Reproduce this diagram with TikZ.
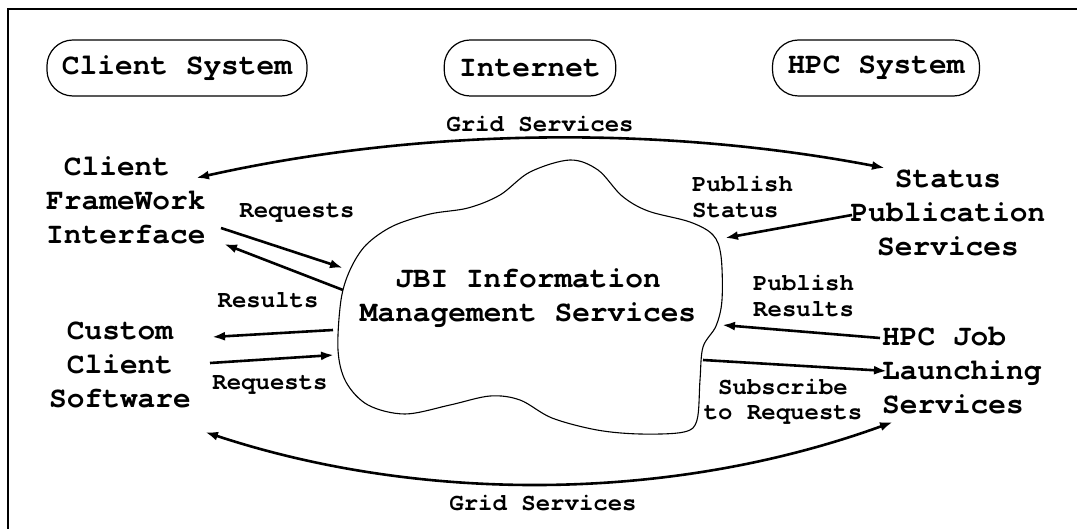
\documentclass[tikz,border=0pt]{standalone}
\usepackage{fontspec}
\setmonofont{TeX Gyre Cursor}
\usetikzlibrary{arrows.meta}
\begin{document}
\begin{tikzpicture}[x=1pt,y=-1pt,
  big/.style={font=\fontsize{29.5}{34}\selectfont\ttfamily\bfseries, inner sep=0pt},
  small/.style={font=\fontsize{24}{25.5}\selectfont\ttfamily\bfseries, inner sep=0pt},
  sysbox/.style={big, draw, line width=1.2pt, rounded corners=26pt, minimum height=56pt, inner xsep=15pt},
  arr/.style={line width=2.6pt, -{Latex[length=13pt,width=9pt]}},
  dbl/.style={line width=2.6pt, {Latex[length=13pt,width=9pt]}-{Latex[length=13pt,width=9pt]}},
  cloudline/.style={line width=1.1pt}
]
\useasboundingbox (0,0) rectangle (1077,529);
\fill[white] (0,0) rectangle (1077,529);
\draw[line width=2pt] (8,529) -- (8,9) -- (1077,9);

% system boxes
\node[sysbox] (client) at (177,68) {Client System};
\node[sysbox] (inet) at (530,68) {Internet};
\node[sysbox] (hpc) at (876,68) {HPC System};

% cloud
\draw[cloudline] plot[smooth cycle, tension=0.55] coordinates {
 (570,160) (598,170) (622,196) (648,211) (690,222) (713,235) (721,256)
 (722,300) (716,326) (703,347) (700,380) (697,420) (684,432) (640,434)
 (597,430) (552,418) (520,400) (490,396) (450,405) (405,414) (368,405)
 (346,382) (338,350) (341,300) (350,270) (366,245) (393,226) (430,214)
 (468,208) (500,195) (530,172)};

% main text nodes
\node[big, anchor=west, align=left] (cfi) at (46,200) {\phantom{C}Client\\FrameWork\\Interface};
\node[big, align=center] (ccs) at (120,365) {Custom\\Client\\Software};
\node[big, align=center] (spub) at (948,213) {Status\\Publication\\Services};
\node[big, anchor=west, align=left] (hpcjob) at (882,371) {HPC Job\\Launching\\Services};
\node[big, align=center] (jbi) at (528,298) {JBI Information\\Management Services};

% labels
\node[small] (gridtop) at (540,124) {Grid Services};
\node[small] (gridbot) at (543,503) {Grid Services};
\node[small] (lreq1) at (297,213) {Requests};
\node[small] (lres) at (268,300) {Results};
\node[small] (lreq2) at (270,385) {Requests};
\node[small, anchor=west, align=left] (lps) at (692,197) {Publish\\Status};
\node[small, anchor=west, align=left] (lpr) at (753,296) {Publish\\Results};
\node[small, align=center] (lsub) at (783,402) {Subscribe\\to Requests};

% arrow end points
\coordinate (tA) at (196,178);
\coordinate (tB) at (885,168);
\coordinate (bA) at (205,432);
\coordinate (bB) at (893,422);
\coordinate (r1s) at (221,228);
\coordinate (r1e) at (343,268);
\coordinate (s1s) at (343,290);
\coordinate (s1e) at (224,244);
\coordinate (s2s) at (333,330);
\coordinate (s2e) at (212,337);
\coordinate (r2s) at (210,363);
\coordinate (r2e) at (334,355);
\coordinate (psS) at (852,215);
\coordinate (psE) at (725,238);
\coordinate (prS) at (880,338);
\coordinate (prE) at (722,325);
\coordinate (sbS) at (703,360);
\coordinate (sbE) at (887,371);

% connectors
\draw[dbl] (tA) .. controls (420,128) and (660,125) .. (tB);
\draw[dbl] (bA) .. controls (420,503) and (670,503) .. (bB);
\draw[arr] (r1s) -- (r1e);
\draw[arr] (s1s) -- (s1e);
\draw[arr] (s2s) -- (s2e);
\draw[arr] (r2s) -- (r2e);
\draw[arr] (psS) -- (psE);
\draw[arr] (prS) -- (prE);
\draw[arr] (sbS) -- (sbE);
\end{tikzpicture}
\end{document}
